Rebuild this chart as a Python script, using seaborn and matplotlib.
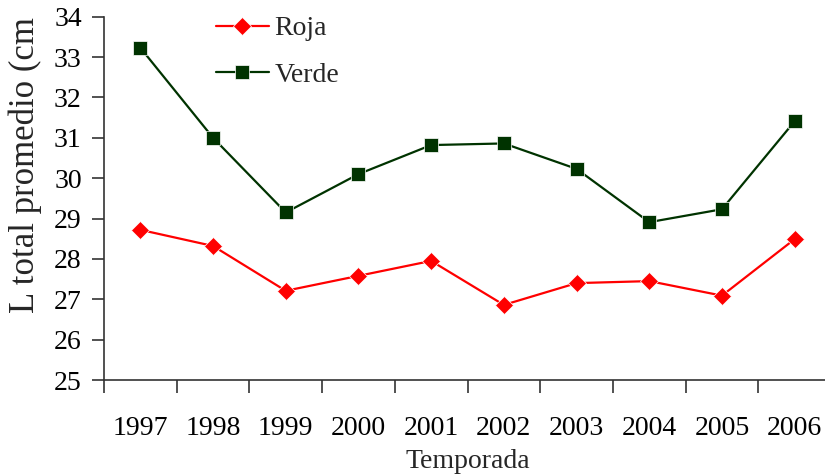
import matplotlib
matplotlib.use("Agg")
import matplotlib.pyplot as plt
import seaborn as sns
import pandas as pd
import numpy as np

years = ["1997", "1998", "1999", "2000", "2001", "2002", "2003", "2004", "2005", "2006"]
roja = [28.72, 28.32, 27.21, 27.58, 27.95, 26.86, 27.40, 27.45, 27.09, 28.49]
verde = [33.23, 31.00, 29.15, 30.10, 30.82, 30.86, 30.23, 28.91, 29.23, 31.41]
series_names = ["Roja", "Verde"]
y_ticks = [25, 26, 27, 28, 29, 30, 31, 32, 33, 34]

sns.set_style("white")
plt.rcParams["font.family"] = ["Liberation Serif", "DejaVu Serif"]

df = pd.DataFrame({
    "pos": list(range(len(years))) * 2,
    "valor": roja + verde,
    "serie": [series_names[0]] * len(years) + [series_names[1]] * len(years),
})

fig = plt.figure(figsize=(8.25, 4.76), dpi=100)
ax = fig.add_axes([104 / 825, (476 - 380) / 476, 727 / 825, (380 - 16.7) / 476])

sns.lineplot(data=df, x="pos", y="valor", hue="serie", style="serie",
             palette={"Roja": "#ff0000", "Verde": "#003300"},
             markers={"Roja": "D", "Verde": "s"}, dashes=False,
             markersize=9.5, linewidth=1.6, markeredgewidth=0.5, ax=ax)

ax.set_xlim(-0.5, len(years) - 0.5)
ax.set_ylim(25, 34)
ax.set_yticks(y_ticks)
ax.set_xticks(range(len(years)))
ax.set_xticklabels(years)
ax.set_xticks(np.arange(-0.5, len(years) + 0.5, 1), minor=True)
ax.tick_params(axis="x", which="major", length=0, pad=26, labelsize=20, colors="black")
ax.tick_params(axis="x", which="minor", length=9, width=1.2, color="#333333", bottom=True)
ax.tick_params(axis="y", which="major", length=9, width=1.2, color="#333333",
               left=True, pad=7, labelsize=20, labelcolor="black")

for s in ["top", "right"]:
    ax.spines[s].set_visible(False)
for s in ["left", "bottom"]:
    ax.spines[s].set_color("#333333")
    ax.spines[s].set_linewidth(1.2)

ax.set_xlabel("Temporada", fontsize=20, labelpad=6)
ax.set_ylabel("")
fig.text(25 / 825, 1 - 165 / 476, "L total promedio (cm", rotation=90,
         fontsize=25, ha="center", va="center")

leg = ax.legend(loc="upper left", bbox_to_anchor=(191 / 825, 1 + 9 / 476),
                bbox_transform=fig.transFigure, frameon=False, fontsize=20,
                handlelength=1.9, labelspacing=0.75, handletextpad=0.2,
                title=None)

fig.savefig("out.png", dpi=100)
